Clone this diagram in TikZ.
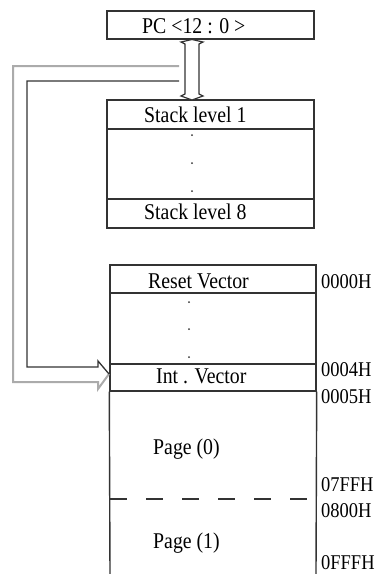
\documentclass[tikz,border=0pt]{standalone}
\usepackage{fontspec}
\setmainfont{Liberation Serif}[FakeStretch=0.88]
\definecolor{ink}{HTML}{333333}
\definecolor{shade}{HTML}{ABABAB}
\begin{document}
\begin{tikzpicture}[x=1pt,y=-1pt,
  cell/.style={draw=ink,line width=1.4pt,inner sep=0pt,minimum width=207pt},
  mcell/.style={draw=ink,line width=1.4pt,inner sep=0pt,minimum width=206pt},
  lbl/.style={inner sep=0pt,anchor=base west,text=black,font=\fontsize{22.5}{26}\selectfont},
  addr/.style={inner sep=0pt,anchor=base west,text=black,font=\fontsize{21}{24}\selectfont},
  edge/.style={draw=ink,line width=1.4pt},
  outerline/.style={draw=shade,line width=2pt,line join=miter},
  innerline/.style={draw=ink,line width=1.3pt,line join=miter},
  dotmark/.style={fill=ink}]
\useasboundingbox (0,0) rectangle (380,574);

% stack side
\node[cell,minimum height=28pt] (pc) at (210.5,25) {};
\node[lbl] (pct) at (142,33) {PC <12 : 0 >};
\node[cell,minimum height=29pt] (s1) at (210.5,114.5) {};
\node[cell,minimum height=70pt] (smid) at (210.5,164) {};
\node[cell,minimum height=29pt] (s8) at (210.5,213.5) {};
\node[lbl] (s1t) at (144,122) {Stack level 1};
\node[lbl] (s8t) at (144,219.5) {Stack level 8};
\fill[dotmark] (192,135) circle (1pt) (192,163) circle (1pt) (192,191) circle (1pt);

% double-headed hollow arrow PC <-> stack
\draw[ink,line width=1.2pt,line join=miter,fill=white]
  (192,39.5) -- (203,42) -- (199,44) -- (199,94) -- (203,96) -- (192,100)
  -- (181,96) -- (185,94) -- (185,44) -- (181,42) -- cycle;

% memory map
\node[mcell,minimum height=28pt] (reset) at (213,279) {};
\node[mcell,minimum height=71pt] (mmid) at (213,328.5) {};
\node[mcell,minimum height=27pt] (intv) at (213,377.5) {};
\coordinate (ml) at (110,574);
\coordinate (mr) at (316,574);
\draw[edge] (intv.south west) -- (ml);
\draw[edge] (intv.south east) -- (mr);
\coordinate (dl) at (110,499);
\coordinate (dr) at (316,499);
\draw[edge,dash pattern=on 17pt off 19pt] (dl) -- (dr);
\node[lbl] (rvt) at (148,288) {Reset Vector};
\node[lbl] (ivt) at (156,383) {Int . Vector};
\node[lbl] (p0) at (153,454) {Page (0)};
\node[lbl] (p1) at (153,548) {Page (1)};
\fill[dotmark] (189,302) circle (1pt) (189,329) circle (1pt) (189,357) circle (1pt);

\node[addr] (a0) at (321,288) {0000H};
\node[addr] (a4) at (321,376) {0004H};
\node[addr] (a5) at (321,403) {0005H};
\node[addr] (a7) at (321,491) {07FFH};
\node[addr] (a8) at (321,517) {0800H};
\node[addr] (af) at (321,569) {0FFFH};

% hollow arrow from stack path to interrupt vector
\coordinate (ostart) at (179,66);
\coordinate (istart) at (179,81);
\coordinate (tip) at (109,374);
\draw[outerline] (ostart) -- (13,66) -- (13,382) -- (98,382) -- (98,389) -- (tip);
\draw[innerline] (istart) -- (27,81) -- (27,367) -- (98,367) -- (98,361) -- (tip);
\end{tikzpicture}
\end{document}
